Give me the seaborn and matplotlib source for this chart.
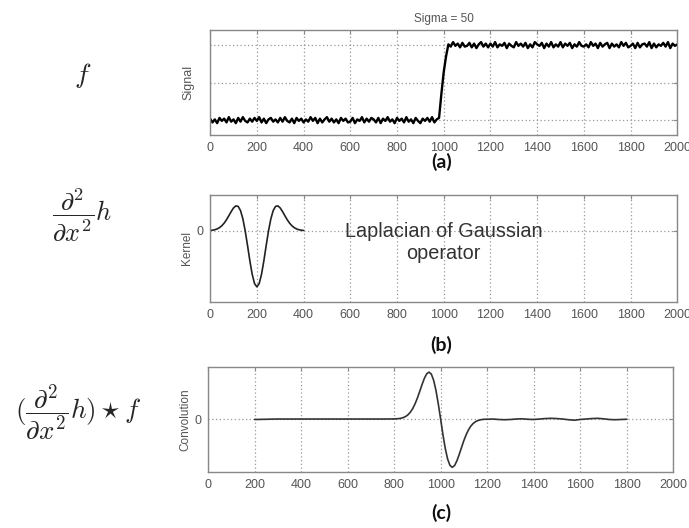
import numpy as np
import pandas as pd
import matplotlib
matplotlib.use("Agg")
import matplotlib.pyplot as plt
import seaborn as sns

# ---------------- data ----------------
x_ticks = [0, 200, 400, 600, 800, 1000, 1200, 1400, 1600, 1800, 2000]

signal_x = list(range(0, 2001, 10))
signal_base = [0.0] * 98 + [0.05, 0.33, 0.61, 0.89] + [1.0] * 99
signal_noise = [  # hundredths
    2, -3, 1, -4, 3, -1, 2, -3, 4, -2,
    1, -4, 3, -2, 4, -1, -3, 2, -2, 3,
    -1, 4, -3, 2, -4, 1, 3, -2, 1, -3,
    3, -2, 4, -1, -3, 2, -4, 3, -1, 2,
    -3, 1, -2, 4, -1, 3, -4, 2, -3, 1,
    4, -2, 2, -3, 1, -4, 3, -1, 2, -3,
    -2, 3, -4, 1, -1, 4, -3, 2, -2, 3,
    1, -3, 3, -4, 2, -1, 4, -2, 1, -4,
    3, -1, 2, -3, 4, -2, 1, -4, 3, -1,
    -4, 2, -1, 3, -2, 4, -3, 1, -2, 2,
    3, -4, 1, -2, 4, -1, 2, -3, 3, -2,
    -1, 3, -3, 2, -4, 1, 4, -2, 2, -3,
    2, -2, 4, -3, 1, -1, 3, -4, 2, -1,
    -3, 4, -1, 2, -2, 3, -4, 1, -3, 4,
    1, -1, 3, -4, 2, -2, 4, -3, 1, -2,
    4, -3, 2, -1, 3, -4, 1, -2, 4, -1,
    -2, 1, -3, 4, -1, 2, -4, 3, -2, 1,
    3, -4, 2, -2, 1, -3, 4, -1, 3, -3,
    -1, 2, -4, 3, -3, 1, 2, -2, 4, -4,
    2, -3, 1, -1, 3, -2, 4, -4, 2, -1,
    1,
]

kernel_x = list(range(0, 401, 10))
kernel_y = [0.005, 0.010, 0.018, 0.033, 0.055, 0.089, 0.136, 0.196, 0.267, 0.341,
            0.406, 0.443, 0.434, 0.360, 0.214, 0.0, -0.261, -0.535, -0.775, -0.941,
            -1.0,
            -0.941, -0.775, -0.535, -0.261, 0.0, 0.214, 0.360, 0.434, 0.443, 0.406,
            0.341, 0.267, 0.196, 0.136, 0.089, 0.055, 0.033, 0.018, 0.010, 0.005]

conv_x = list(range(200, 800, 50)) + list(range(800, 1200, 10)) + list(range(1200, 1801, 25))
conv_y = ([-0.01, -0.005, 0, 0, 0, 0, 0, 0, 0, 0, 0, 0] +
          [0.002, 0.005, 0.009, 0.017, 0.032, 0.055, 0.092, 0.146, 0.222, 0.323,
           0.446, 0.587, 0.733, 0.866, 0.963, 1.0, 0.958, 0.826, 0.609, 0.323,
           0.0, -0.333, -0.627, -0.851, -0.987, -1.03, -0.992, -0.892, -0.755, -0.605,
           -0.459, -0.333, -0.229, -0.150, -0.095, -0.057, -0.033, -0.018, -0.009, -0.005] +
          [-0.005, 0.0, -0.01, -0.015, -0.01, 0.0, 0.005, -0.005, -0.01, 0.0,
           0.01, 0.015, 0.01, 0.0, -0.015, -0.025, -0.01, 0.0, 0.01, 0.015,
           0.005, -0.01, -0.015, -0.01, -0.005])

# ---------------- figure ----------------
sns.set_style("white")
plt.rcParams['font.family'] = ['Liberation Sans', 'DejaVu Sans']
plt.rcParams['mathtext.fontset'] = 'cm'

fig = plt.figure(figsize=(6.89, 5.28), dpi=100)
ax1 = fig.add_axes([0.305, 0.744, 0.678, 0.199])
ax2 = fig.add_axes([0.305, 0.428, 0.678, 0.203])
ax3 = fig.add_axes([0.302, 0.106, 0.675, 0.199])

sig_df = pd.DataFrame({"x": signal_x,
                       "y": np.array(signal_base) + np.array(signal_noise) * 0.01})
ker_df = pd.DataFrame({"x": kernel_x, "y": kernel_y})
conv_df = pd.DataFrame({"x": conv_x, "y": conv_y})

sns.lineplot(data=sig_df, x="x", y="y", ax=ax1, color="black", lw=1.7)
sns.lineplot(data=ker_df, x="x", y="y", ax=ax2, color="#222222", lw=1.2)
sns.lineplot(data=conv_df, x="x", y="y", ax=ax3, color="#333333", lw=1.2)

grid_kw = dict(color="#999999", linestyle=(0, (1, 2)), linewidth=0.9)
tick_col = "#555555"

for ax in (ax1, ax2, ax3):
    ax.set_xlim(0, 2000)
    ax.set_xticks(x_ticks)
    ax.set_xticklabels([str(t) for t in x_ticks], fontsize=9, color=tick_col)
    ax.grid(True, **grid_kw)
    ax.set_axisbelow(True)
    for sp in ax.spines.values():
        sp.set_color("#888888")
        sp.set_linewidth(1.0)
    ax.tick_params(axis="both", direction="in", length=3, color="#888888",
                   top=True, right=True, pad=5)
    ax.set_xlabel("")

ax1.set_ylim(-0.2, 1.2)
ax1.set_yticks([0, 0.5, 1])
ax1.set_yticklabels([])
ax1.set_ylabel("Signal", fontsize=9, color=tick_col, labelpad=6)
ax1.set_title("Sigma = 50", fontsize=8.5, color="#555555", pad=6)

ax2.set_ylim(-1.27, 0.64)
ax2.set_yticks([0])
ax2.set_yticklabels(["0"], fontsize=9, color=tick_col)
ax2.set_ylabel("Kernel", fontsize=8.5, color=tick_col, labelpad=2)
ax2.text(1000, -0.21, "Laplacian of Gaussian\noperator", ha="center", va="center",
         fontsize=14.3, color="#333333", linespacing=1.15)

ax3.set_ylim(-1.13, 1.11)
ax3.set_yticks([0])
ax3.set_yticklabels(["0"], fontsize=9, color=tick_col)
ax3.set_ylabel("Convolution", fontsize=8.5, color=tick_col, labelpad=2)

# panel captions
cap_kw = dict(ha="center", va="center", fontsize=14, fontweight="bold",
              family=["Lato", "DejaVu Sans"], color="#111111")
fig.text(0.641, 1 - 162 / 528, "(a)", **cap_kw)
fig.text(0.641, 1 - 345 / 528, "(b)", **cap_kw)
fig.text(0.641, 1 - 513 / 528, "(c)", **cap_kw)

# math labels on the left
fig.text(83 / 689, 1 - 75 / 528, r"$f$", ha="center", va="center", fontsize=20)
fig.text(82 / 689, 1 - 215 / 528, r"$\dfrac{\partial^2}{\partial x^2}h$",
         ha="center", va="center", fontsize=19)
fig.text(78 / 689, 1 - 413 / 528, r"$(\dfrac{\partial^2}{\partial x^2}h)\star f$",
         ha="center", va="center", fontsize=19.5)

fig.savefig("out.png", dpi=100)
